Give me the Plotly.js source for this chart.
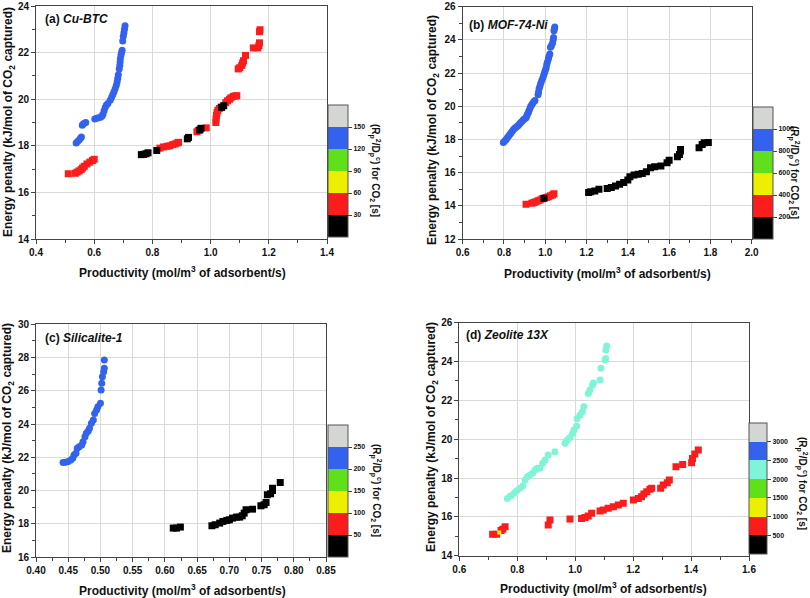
<!DOCTYPE html>
<html>
<head>
<meta charset="utf-8">
<script src="https://cdn.plot.ly/plotly-3.0.1.min.js"></script>
<style>html,body{margin:0;padding:0;background:#fff;}#chart{width:810px;height:598px;}</style>
</head>
<body>
<div id="chart"></div>
<script>
// ---------------- DATA ----------------
// (a) Cu-BTC
const aBlueX = [0.538,0.543,0.548,0.553,0.556,0.559,0.561,0.566,0.571,0.602,0.608,0.615,0.622,0.627,0.630,0.634,0.638,0.642,0.647,0.655,0.660,0.664,0.668,0.672,0.676,0.679,0.681,0.683,0.686,0.688,0.689,0.690,0.692,0.694,0.696,0.698,0.700,0.702,0.704,0.706];
const aBlueY = [18.12,18.18,18.25,18.32,18.38,18.88,18.92,18.97,19.0,19.15,19.18,19.2,19.23,19.28,19.35,19.5,19.65,19.75,19.82,19.95,20.08,20.2,20.32,20.45,20.6,20.75,20.9,21.05,21.3,21.45,21.6,21.75,21.9,22.0,22.1,22.5,22.7,22.85,23.0,23.15];
const aRed1X = [0.511,0.535,0.541,0.548,0.555,0.560,0.566,0.575,0.585,0.594,0.600];
const aRed1Y = [16.8,16.82,16.87,16.92,16.98,17.05,17.12,17.22,17.3,17.37,17.42];
const aRed2X = [0.826,0.838,0.850,0.860,0.870,0.878,0.885,0.890,0.953,0.958,0.985,1.018,1.019,1.020,1.022,1.025,1.030,1.036,1.052,1.058,1.065,1.070,1.078,1.085,1.090,1.095,1.100,1.107,1.110,1.113,1.120,1.147,1.162,1.166,1.168,1.168,1.170];
const aRed2Y = [17.9,17.95,17.98,18.0,18.05,18.08,18.12,18.15,18.6,18.66,18.77,19.0,19.15,19.3,19.42,19.52,19.6,19.66,19.85,19.93,20.0,20.06,20.12,20.14,20.15,21.3,21.35,21.45,21.55,21.65,21.88,22.2,22.2,22.3,22.42,22.9,22.98];
const aBlackX = [0.762,0.770,0.778,0.785,0.815,0.920,0.924,0.963,0.967,1.038,1.045];
const aBlackY = [17.62,17.63,17.66,17.7,17.8,18.3,18.36,18.68,18.75,19.65,19.72];
const aTicks = [30,60,90,120,150];
const aVal = {blue:135, red:45, black:15};

// (b) MOF-74-Ni
const bBlueX = [0.797,0.803,0.810,0.815,0.821,0.827,0.833,0.840,0.845,0.852,0.858,0.864,0.870,0.876,0.881,0.888,0.894,0.900,0.907,0.910,0.913,0.917,0.920,0.925,0.929,0.934,0.939,0.945,0.950,0.965,0.967,0.970,0.974,0.978,0.983,0.988,0.992,0.996,1.000,1.004,1.007,1.010,1.015,1.018,1.022,1.025,1.030,1.035,1.038,1.040,1.042,1.044,1.046];
const bBlueY = [17.82,17.9,17.98,18.08,18.18,18.28,18.38,18.5,18.58,18.68,18.74,18.8,18.85,18.95,19.02,19.1,19.18,19.25,19.3,19.42,19.5,19.6,19.7,19.85,19.98,20.08,20.18,20.28,20.35,20.7,20.85,21.05,21.2,21.38,21.55,21.7,21.85,22.0,22.15,22.3,22.5,22.65,22.85,23.0,23.15,23.55,23.65,23.8,24.0,24.15,24.55,24.65,24.78];
const bRedX = [0.907,0.935,0.945,0.955,0.965,0.975,0.985,1.005,1.015,1.025,1.035,1.042];
const bRedY = [14.1,14.15,14.2,14.25,14.3,14.35,14.42,14.5,14.55,14.6,14.65,14.72];
const bBlackX = [0.994,1.21,1.22,1.24,1.26,1.30,1.32,1.34,1.36,1.38,1.40,1.41,1.43,1.45,1.47,1.49,1.51,1.53,1.56,1.59,1.60,1.64,1.65,1.655,1.655,1.745,1.76,1.77,1.79];
const bBlackY = [14.45,14.8,14.85,14.9,15.0,15.05,15.1,15.2,15.3,15.4,15.55,15.75,15.85,15.9,15.95,16.05,16.3,16.35,16.4,16.6,16.75,16.95,17.1,17.3,17.4,17.5,17.7,17.8,17.82];
const bTicks = [200,400,600,800,1000];
const bVal = {blue:900, red:300, black:100};

// (c) Silicalite-1
const cBlueX = [0.442,0.446,0.450,0.454,0.457,0.459,0.462,0.464,0.467,0.471,0.473,0.476,0.478,0.481,0.483,0.486,0.489,0.491,0.494,0.496,0.500,0.501,0.502,0.503,0.505,0.506,0.506];
const cBlueY = [21.68,21.7,21.74,21.84,21.94,22.14,22.24,22.54,22.64,22.74,22.94,23.24,23.44,23.58,23.74,24.04,24.24,24.64,24.84,25.04,25.25,26.05,26.45,26.85,27.15,27.35,27.85];
const cBlackX = [0.613,0.618,0.624,0.673,0.678,0.685,0.690,0.696,0.700,0.705,0.711,0.716,0.720,0.723,0.726,0.736,0.749,0.754,0.757,0.759,0.764,0.767,0.767,0.779];
const cBlackY = [17.74,17.74,17.8,17.88,17.94,18.04,18.14,18.2,18.24,18.34,18.4,18.4,18.48,18.64,18.84,18.88,19.08,19.14,19.28,19.74,19.8,20.0,20.14,20.48];
const cTicks = [50,100,150,200,250];
const cVal = {blue:225, black:25};

// (d) Zeolite 13X
const dAquaX = [0.766,0.777,0.789,0.798,0.809,0.819,0.827,0.835,0.844,0.853,0.861,0.869,0.878,0.888,0.896,0.907,0.930,0.965,0.973,0.982,0.991,0.996,1.005,1.007,1.017,1.025,1.030,1.045,1.051,1.060,1.063,1.086,1.089,1.103,1.105,1.106,1.109];
const dAquaY = [16.95,17.07,17.21,17.35,17.47,17.59,17.9,18.07,18.15,18.24,18.41,18.5,18.5,18.76,18.93,19.18,19.35,19.79,19.96,20.09,20.3,20.47,20.68,21.07,21.24,21.42,21.67,22.36,22.53,22.79,22.9,23.05,23.65,24.08,24.16,24.59,24.8];
const dRedX = [0.715,0.729,0.744,0.750,0.758,0.907,0.913,0.982,1.022,1.034,1.045,1.057,1.086,1.097,1.114,1.132,1.149,1.166,1.201,1.218,1.229,1.237,1.247,1.258,1.264,1.295,1.304,1.318,1.325,1.348,1.371,1.402,1.405,1.413,1.425];
const dRedY = [15.1,15.1,15.3,15.36,15.49,15.58,15.84,15.89,15.92,15.97,16.04,16.18,16.3,16.35,16.44,16.52,16.61,16.7,16.87,16.95,17.04,17.18,17.3,17.42,17.47,17.47,17.64,17.76,17.9,18.58,18.7,18.79,19.01,19.24,19.44];
const dYellowX = [0.738];
const dYellowY = [15.2];
const dTicks = [500,1000,1500,2000,2500,3000];
const dVal = {aqua:2250, red:750, yellow:1250};

// colour bands (bottom to top)
const bands6 = ['#000000','#fb1c1c','#ecf000','#5fe01a','#3363ee','#d3d6d3'];
const bands7 = ['#000000','#fb1c1c','#ecf000','#5fe01a','#80f4d6','#3363ee','#d3d6d3'];

// ---------------- BUILD ----------------
const FONT = 'Liberation Sans, Arial, sans-serif';
const W = 810, H = 598;
const px = v => v / W;
const py = v => 1 - v / H;

function stepScale(cols){
  const n = cols.length, s = [];
  cols.forEach((c,i)=>{ s.push([i/n, c]); s.push([(i+1)/n, c]); });
  return s;
}
function tr(x, y, val, symbol, xa, ya, ca, size){
  return {type:'scatter', mode:'markers', x:x, y:y, xaxis:xa, yaxis:ya,
    marker:{symbol:symbol, size:size||7, color:x.map(()=>val), coloraxis:ca, line:{width:0}},
    hoverinfo:'x+y', showlegend:false};
}
const data = [
  tr(aRed1X,aRed1Y,aVal.red,'square','x','y','coloraxis'),
  tr(aRed2X,aRed2Y,aVal.red,'square','x','y','coloraxis'),
  tr(aBlackX,aBlackY,aVal.black,'square','x','y','coloraxis'),
  tr(aBlueX,aBlueY,aVal.blue,'circle','x','y','coloraxis'),
  tr(bRedX,bRedY,bVal.red,'square','x2','y2','coloraxis2'),
  tr(bBlackX,bBlackY,bVal.black,'square','x2','y2','coloraxis2'),
  tr(bBlueX,bBlueY,bVal.blue,'circle','x2','y2','coloraxis2'),
  tr(cBlackX,cBlackY,cVal.black,'square','x3','y3','coloraxis3'),
  tr(cBlueX,cBlueY,cVal.blue,'circle','x3','y3','coloraxis3'),
  tr(dRedX,dRedY,dVal.red,'square','x4','y4','coloraxis4'),
  tr(dYellowX,dYellowY,dVal.yellow,'square','x4','y4','coloraxis4',4),
  tr(dAquaX,dAquaY,dVal.aqua,'circle','x4','y4','coloraxis4')
];

const tickFont = {family:FONT, size:10, weight:'bold', color:'#111'};
function xax(dom, anchor, range, dtick, minor, fmt){
  return {domain:dom, anchor:anchor, range:range, dtick:dtick, tick0:range[0], tickformat:fmt,
    showline:true, mirror:true, linecolor:'#444', linewidth:1,
    showgrid:true, gridcolor:'#dadada', gridwidth:1, zeroline:false,
    ticks:'outside', ticklen:4, tickwidth:1, tickcolor:'#444', tickfont:tickFont,
    minor:{dtick:minor, ticklen:3, tickcolor:'#444', ticks:'outside', showgrid:false},
    fixedrange:true};
}
function yax(dom, anchor, range, dtick, minor){
  return {domain:dom, anchor:anchor, range:range, dtick:dtick, tick0:range[0],
    showline:true, mirror:true, linecolor:'#444', linewidth:1,
    showgrid:true, gridcolor:'#dadada', gridwidth:1, zeroline:false,
    ticks:'outside', ticklen:4, tickwidth:1, tickcolor:'#444', tickfont:tickFont,
    minor:{dtick:minor, ticklen:3, tickcolor:'#444', ticks:'outside', showgrid:false},
    fixedrange:true};
}
function cax(cmax, cols, ticks, left, bottom, thick, len){
  return {cmin:0, cmax:cmax, colorscale:stepScale(cols), showscale:true,
    colorbar:{x:px(left), xanchor:'left', y:py(bottom), yanchor:'bottom',
      len:len, lenmode:'pixels', thickness:thick, thicknessmode:'pixels',
      xpad:0, ypad:0, outlinewidth:1, outlinecolor:'#555',
      tickmode:'array', tickvals:ticks, ticks:'outside', ticklen:4, tickcolor:'#444',
      tickfont:{family:FONT, size:7, weight:'bold', color:'#111'}, title:{text:''}}};
}

const xTitle = 'Productivity (mol/m<sup>3</sup> of adsorbent/s)';
const yTitle = 'Energy penalty (kJ/mol of CO<sub>2</sub> captured)';
const cbTitle = '(R<sub>p</sub><sup>2</sup>/D<sub>p</sub><sup>c</sup>) for CO<sub>2</sub> [s]';
const annFont = {family:FONT, size:12, color:'#111', weight:'bold'};
function ann(text, x, y, opts){
  return Object.assign({text:text, xref:'paper', yref:'paper', x:px(x), y:py(y),
    showarrow:false, font:annFont, xanchor:'center', yanchor:'middle'}, opts||{});
}
const annotations = [
  ann('(a) <i>Cu-BTC</i>', 43, 19, {xanchor:'left'}),
  ann('(b) <i>MOF-74-Ni</i>', 467, 25, {xanchor:'left'}),
  ann('(c) <i>Silicalite-1</i>', 43, 338, {xanchor:'left'}),
  ann('(d) <i>Zeolite 13X</i>', 464, 335, {xanchor:'left'}),
  ann(xTitle, 182, 272), ann(xTitle, 607, 273), ann(xTitle, 182, 590), ann(xTitle, 603, 588),
  ann(yTitle, 9, 122, {textangle:-90}), ann(yTitle, 433, 130, {textangle:-90}),
  ann(yTitle, 8, 438, {textangle:-90}), ann(yTitle, 432, 437, {textangle:-90}),
  ann(cbTitle, 375, 170, {textangle:90, font:Object.assign({}, annFont, {size:10})}),
  ann(cbTitle, 794, 172, {textangle:90, font:Object.assign({}, annFont, {size:10})}),
  ann(cbTitle, 376, 490, {textangle:90, font:Object.assign({}, annFont, {size:10})}),
  ann(cbTitle, 802, 483, {textangle:90, font:Object.assign({}, annFont, {size:10})})
];

const layout = {
  width:W, height:H, margin:{l:0,r:0,t:0,b:0},
  paper_bgcolor:'#fff', plot_bgcolor:'#fff', showlegend:false,
  font:{family:FONT, color:'#111'},
  xaxis: xax([px(36),px(327)],'y',[0.4,1.4],0.2,0.1,'.1f'),
  yaxis: yax([py(239),py(6)],'x',[14,24],2,1),
  xaxis2: xax([px(462.7),px(751.7)],'y2',[0.6,2.0],0.2,0.1,'.1f'),
  yaxis2: yax([py(239),py(6.7)],'x2',[12,26],2,1),
  xaxis3: xax([px(36),px(326)],'y3',[0.40,0.85],0.05,0.025,'.2f'),
  yaxis3: yax([py(557),py(324.3)],'x3',[16,30],2,1),
  xaxis4: xax([px(459.3),px(749)],'y4',[0.6,1.6],0.2,0.1,'.1f'),
  yaxis4: yax([py(555.7),py(322.7)],'x4',[14,26],2,1),
  coloraxis: cax(180, bands6, aTicks, 328, 237, 20, 132),
  coloraxis2: cax(1200, bands6, bTicks, 753, 239, 20, 132),
  coloraxis3: cax(300, bands6, cTicks, 328, 557, 20, 132),
  coloraxis4: cax(3500, bands7, dTicks, 749, 554, 18, 131),
  annotations: annotations
};

Plotly.newPlot('chart', data, layout, {displayModeBar:false, staticPlot:true});
</script>
</body>
</html>
